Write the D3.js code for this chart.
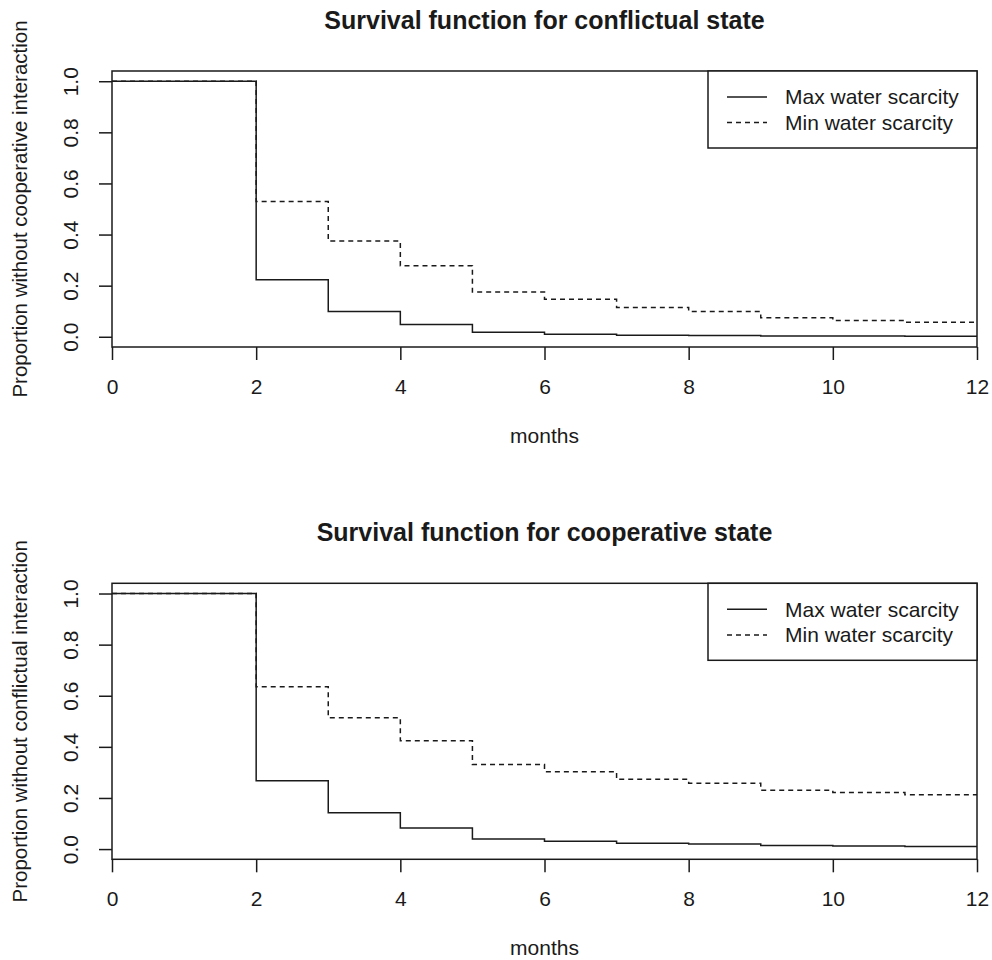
<!DOCTYPE html>
<html>
<head>
<meta charset="utf-8">
<script src="https://cdn.jsdelivr.net/npm/d3@7"></script>
<style>
  body { margin: 0; background: #fff; }
  text { font-family: "Liberation Sans", Arial, sans-serif; fill: #1a1a1a; }
</style>
</head>
<body>
<div id="chart"></div>
<script>
"use strict";

// step start months (curve holds each value until the next month)
const stepMonths = [0, 2, 3, 4, 5, 6, 7, 8, 9, 10, 11];
const xTicks = [0, 2, 4, 6, 8, 10, 12];
const yTicks = [0.0, 0.2, 0.4, 0.6, 0.8, 1.0];
const seriesNames = ["Max water scarcity", "Min water scarcity"];

// conflictual state
const conflictMax = [1.0, 0.223, 0.099, 0.048, 0.018, 0.010, 0.006, 0.005, 0.003, 0.003, 0.002];
const conflictMin = [1.0, 0.529, 0.375, 0.278, 0.175, 0.147, 0.115, 0.099, 0.074, 0.064, 0.057];

// cooperative state
const coopMax = [1.0, 0.267, 0.142, 0.082, 0.039, 0.031, 0.023, 0.020, 0.014, 0.012, 0.010];
const coopMin = [1.0, 0.635, 0.514, 0.424, 0.331, 0.303, 0.273, 0.258, 0.230, 0.221, 0.213];

const panels = [
  { title: "Survival function for conflictual state", ylab: "Proportion without cooperative interaction",
    max: conflictMax, min: conflictMin, top: 71 },
  { title: "Survival function for cooperative state", ylab: "Proportion without conflictual interaction",
    max: coopMax, min: coopMin, top: 583.3 }
];

const size = { width: 992, height: 960, left: 112, right: 977, plotH: 276 };
const ink = "#1a1a1a";

const svg = d3.select("#chart").append("svg")
    .attr("width", size.width)
    .attr("height", size.height);

panels.forEach(p => drawPanel(p));

function drawPanel(p) {
  let bottom = p.top + size.plotH;
  let x = d3.scaleLinear().domain([0, 12]).range([size.left, size.right]);
  let y = d3.scaleLinear().domain([-0.04, 1.04]).range([bottom, p.top]);
  let g = svg.append("g");

  let line = d3.line()
      .x(d => x(d[0]))
      .y(d => y(d[1]))
      .curve(d3.curveStepAfter);

  let toPoints = vals => {
    let pts = stepMonths.map((m, i) => [m, vals[i]]);
    pts.push([12, vals[vals.length - 1]]);
    return pts;
  };

  g.append("path")
      .attr("d", line(toPoints(p.max)))
      .attr("fill", "none")
      .attr("stroke", ink)
      .attr("stroke-width", 1.5);

  g.append("path")
      .attr("d", line(toPoints(p.min)))
      .attr("fill", "none")
      .attr("stroke", ink)
      .attr("stroke-width", 1.5)
      .attr("stroke-dasharray", "5,4");

  // box
  g.append("rect")
      .attr("x", size.left)
      .attr("y", p.top)
      .attr("width", size.right - size.left)
      .attr("height", size.plotH)
      .attr("fill", "none")
      .attr("stroke", ink)
      .attr("stroke-width", 1.5);

  // x axis
  let xAxis = d3.axisBottom(x).tickValues(xTicks).tickSize(13).tickPadding(19)
      .tickFormat(d3.format("d"));
  let gx = g.append("g")
      .attr("transform", "translate(0," + bottom + ")")
      .call(xAxis);
  gx.select(".domain").remove();
  gx.selectAll("line").attr("stroke", ink).attr("stroke-width", 1.5);
  gx.selectAll("text").style("font-size", "21px")
      .attr("fill", ink);

  // y axis, labels rotated like R's default
  let yAxis = d3.axisLeft(y).tickValues(yTicks).tickSize(13).tickFormat(d3.format(".1f"));
  let gy = g.append("g")
      .attr("transform", "translate(" + size.left + ",0)")
      .call(yAxis);
  gy.select(".domain").remove();
  gy.selectAll("line").attr("stroke", ink).attr("stroke-width", 1.5);
  gy.selectAll("text")
      .style("font-size", "21px")
      .attr("fill", ink)
      .attr("x", null).attr("dy", null)
      .attr("text-anchor", "middle")
      .attr("transform", "translate(-34,0) rotate(-90)");

  // titles
  g.append("text")
      .attr("x", (size.left + size.right) / 2)
      .attr("y", p.top - 42)
      .attr("text-anchor", "middle")
      .style("font-size", "25px")
      .style("font-weight", "bold")
      .text(p.title);

  g.append("text")
      .attr("x", (size.left + size.right) / 2)
      .attr("y", bottom + 96)
      .attr("text-anchor", "middle")
      .style("font-size", "21px")
      .text("months");

  g.append("text")
      .attr("transform", "translate(27," + ((p.top + bottom) / 2) + ") rotate(-90)")
      .attr("text-anchor", "middle")
      .style("font-size", "20.5px")
      .text(p.ylab);

  // legend
  let lg = g.append("g");
  lg.append("rect")
      .attr("x", 708)
      .attr("y", p.top)
      .attr("width", size.right - 708)
      .attr("height", 77)
      .attr("fill", "#fff")
      .attr("stroke", ink)
      .attr("stroke-width", 1.5);

  seriesNames.forEach((name, i) => {
    let ly = p.top + 26 + i * 25.6;
    lg.append("line")
        .attr("x1", 727).attr("x2", 767)
        .attr("y1", ly).attr("y2", ly)
        .attr("stroke", ink)
        .attr("stroke-width", 1.5)
        .attr("stroke-dasharray", i === 1 ? "5,4" : null);
    lg.append("text")
        .attr("x", 785)
        .attr("y", ly)
        .attr("dy", "0.35em")
        .style("font-size", "21px")
        .text(name);
  });
}
</script>
</body>
</html>
